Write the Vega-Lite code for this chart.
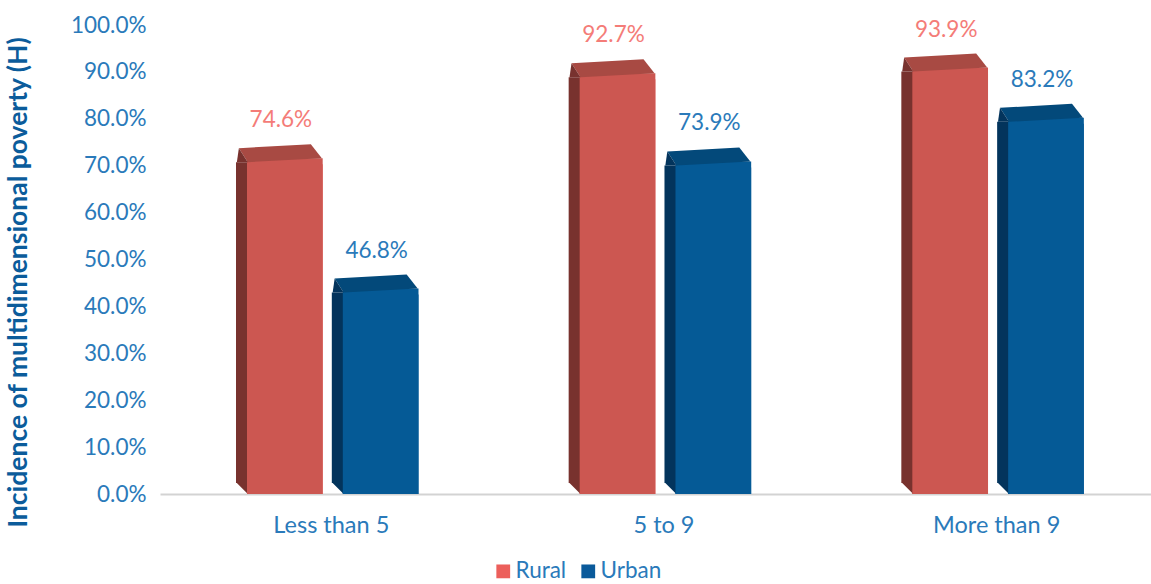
{
"$schema":"https://vega.github.io/schema/vega-lite/v6.json",
"width":991,"height":469,
"autosize":"none",
"padding":{"left":160,"top":25,"right":0,"bottom":90},
"background":"white",
"config":{"view":{"stroke":null},"font":"Lato"},
"data":{"values":[
{"group":"Less than 5","area":"Rural","value":0.746},
{"group":"Less than 5","area":"Urban","value":0.468},
{"group":"5 to 9","area":"Rural","value":0.927},
{"group":"5 to 9","area":"Urban","value":0.739},
{"group":"More than 9","area":"Rural","value":0.939},
{"group":"More than 9","area":"Urban","value":0.832}
]},
"encoding":{
"x":{"field":"group","type":"nominal","sort":["Less than 5","5 to 9","More than 9"],"scale":{"type":"band","padding":0,"range":[0,998]},
"axis":{"title":null,"labelAngle":0,"labelOffset":5,"labelPadding":19,"labelFontSize":23.5,"labelFont":"Lato","labelFontWeight":400,"labelColor":"#2A7ABA","ticks":false,"domainColor":"#D3D3D3","domainWidth":2}},
"xOffset":{"field":"area","type":"nominal","sort":["Rural","Urban"],"scale":{"type":"band","domain":["Rural","Urban"],"range":[87,258.5],"paddingInner":0.21,"paddingOuter":0}},
"y":{"field":"value","type":"quantitative","scale":{"domain":[0,1]},
"axis":{"title":"Incidence of multidimensional poverty (H)","titleFont":"Lato","titleFontSize":26.5,"titleFontWeight":"bold","titleColor":"#0B5C9B","titleX":-128,"titleY":257,"values":[0,0.1,0.2,0.3,0.4,0.5,0.6,0.7,0.8,0.9,1],"format":".1%","grid":false,"domain":false,"ticks":false,"labelPadding":14,"labelFontSize":22.5,"labelFont":"Lato","labelFontWeight":400,"labelColor":"#2A7ABA"}}
},
"resolve":{"scale":{"color":"independent","xOffset":"independent"}},
"layer":[
{"mark":{"type":"bar","yOffset":20},
 "encoding":{"y2":{"datum":0},"color":{"field":"area","type":"nominal","scale":{"domain":["Rural","Urban"],"range":["#EC5F5B","#0A5A9B"]},
 "legend":{"title":null,"orient":"none","legendX":332,"legendY":535,"direction":"horizontal","symbolType":"square","symbolSize":190,"symbolStrokeWidth":0,"labelFontSize":22.5,"labelFont":"Lato","labelFontWeight":400,"labelColor":"#2A7ABA","columnPadding":10,"labelOffset":1}}}},
{"mark":{"type":"bar","yOffset":18,"y2Offset":-11},
 "encoding":{"xOffset":{"field":"area","type":"nominal","sort":["Rural","Urban"],"scale":{"type":"band","domain":["Rural","Urban"],"range":[76,247.5],"paddingInner":0.21,"paddingOuter":0}},"y2":{"datum":0},"color":{"field":"area","type":"nominal","scale":{"domain":["Rural","Urban"],"range":["#78322E","#03345C"]},"legend":null}}},
{"mark":{"type":"point","filled":true,"opacity":1,"strokeWidth":0,"size":10000,"shape":"M -0.96 -0.22 L -0.74 -0.22 L -0.74 0 Z"},
 "encoding":{"y":{"datum":0},"color":{"field":"area","type":"nominal","scale":{"domain":["Rural","Urban"],"range":["#78322E","#03345C"]},"legend":null}}},
{"mark":{"type":"bar","yOffset":14},
 "encoding":{"y2":{"datum":0},"color":{"field":"area","type":"nominal","scale":{"domain":["Rural","Urban"],"range":["#CC5751","#055A96"]},"legend":null}}},
{"mark":{"type":"point","filled":true,"opacity":1,"strokeWidth":0,"size":10000,"shape":"M -0.92 0.08 L 0.52 0 L 0.74 0.28 L -0.74 0.36 Z"},
 "encoding":{"color":{"field":"area","type":"nominal","scale":{"domain":["Rural","Urban"],"range":["#A84A43","#03497A"]},"legend":null}}},
{"mark":{"type":"point","filled":true,"opacity":1,"strokeWidth":0,"size":10000,"shape":"M -0.92 0.08 L -0.74 0.36 L -0.96 0.36 Z"},
 "encoding":{"color":{"field":"area","type":"nominal","scale":{"domain":["Rural","Urban"],"range":["#78322E","#03345C"]},"legend":null}}},
{"mark":{"type":"text","dx":-4,"dy":-24,"fontSize":22.5,"font":"Lato","fontWeight":400},
 "encoding":{"text":{"field":"value","type":"quantitative","format":".1%"},"color":{"field":"area","type":"nominal","scale":{"domain":["Rural","Urban"],"range":["#F47C78","#2A7ABA"]},"legend":null}}}
]
}
